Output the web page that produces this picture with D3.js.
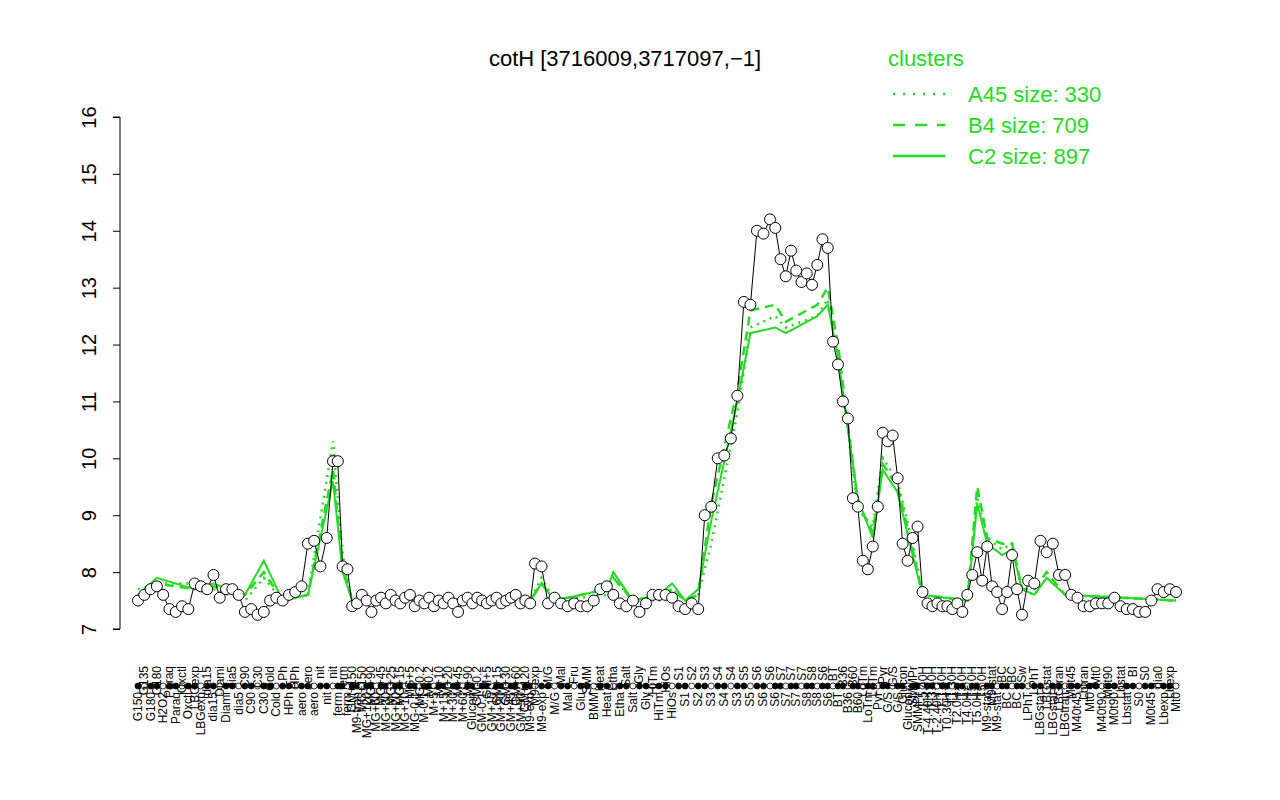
<!DOCTYPE html><html><head><meta charset="utf-8"><script src="https://cdn.jsdelivr.net/npm/d3@7"></script>
<style>body{margin:0;background:#fff}text{font-family:"Liberation Sans",Arial,sans-serif}</style></head><body>
<svg id="c" width="1280" height="800"></svg>
<script>
const labels=["G150","G135","G180","G180","H2O2","Paraq","Paraq","Oxctl","Oxctl","LBGexp","LBGexp","dia15","dia15","Diami","Diami","dia5","dia5","C90","C90","C30","C30","Cold","Cold","LPh","HPh","HPh","aero","aero","aero","nit","nit","nit","ferm","ferm","ferm","GM+150","M9-tran","MG+150","MG+120","MG+90",
"MG+60","MG+45","MG+30","MG+25","MG+20","MG+15","MG+10","MG+5","MG-0.1","MG-0.2","M-0.1","M-0.2","M+5","M+10","M+15","M+20","M+30","M+45","M+60","M+90",
"Glucon","GM-0.2","GM-0.1","GM+5","GM+10","GM+15","GM+20","GM+30","GM+45","GM+60","GM+90","GM+120","M9-exp","M9-exp","M9-exp","M/G","M/G","Mal","Mal","Fru","Glu","SMM","BMM","Heat","Heat","Etha","Etha","Salt","Salt","Gly","Gly","HiTm","HiTm","HiOs","HiOs","S1","S1","S2","S2","S3","S3","S4","S4","S4","S3","S5","S5","S6","S6","S6","S6","S7","S7","S7","S7","S7","S8","S8","S8","S6","S6","BT","BT","B36","B36","B60","B60","LoTm","LoTm","LoTm","Pyr","Pyr","G/S","G/S","G/S","Glucon","Glucon","SMMPr","SMMPr",
"T-5.40H","T-4.40H","T-3.40H","T-2.40H","T-1.40H","T0.30H","T1.30H","T2.0H","T3.0H","T4.0H","T5.0H","T5.0H","T5.0H","M9-stat","M9-stat","M9-stat","BC","BC","BC","BC","Sw","LPhT","LPhT","LBGstat","LBGstat","LBGstat","LBGtran","LBGtran","M0t45","M40t45","Lbtran","Mt0","Mt0","M40t90","M0t90","M0t90","Lbstat","Lbstat","BI","S0","S0","M0t45","dia0","Lbexp","Lbexp","Mt0"];
const values=[7.5,7.6,7.7,7.75,7.6,7.35,7.3,7.4,7.35,7.8,7.75,7.7,7.95,7.55,7.7,7.7,7.6,7.3,7.35,7.25,7.3,7.5,7.55,7.5,7.6,7.65,7.75,8.5,8.55,8.1,8.6,9.95,9.95,8.1,8.05,7.4,7.45,7.6,7.5,7.3,
7.5,7.55,7.45,7.6,7.5,7.45,7.55,7.6,7.4,7.5,7.45,7.55,7.4,7.5,7.45,7.55,7.45,7.3,7.5,7.55,
7.45,7.55,7.5,7.45,7.5,7.55,7.45,7.5,7.55,7.6,7.45,7.5,7.45,8.15,8.1,7.45,7.55,7.45,7.4,7.45,7.4,7.4,7.5,7.7,7.75,7.6,7.45,7.4,7.5,7.3,7.45,7.6,7.6,7.6,7.55,7.4,7.35,7.45,7.35,9.0,9.15,10.0,10.05,10.35,11.1,12.75,12.7,14.0,13.95,14.2,14.05,13.5,13.2,13.65,13.3,13.1,13.25,13.05,13.4,13.85,13.7,12.05,11.65,11.0,10.7,9.3,9.15,8.2,8.05,8.45,9.15,10.45,10.3,10.4,9.65,8.5,8.2,8.6,8.8,
7.65,7.45,7.4,7.45,7.4,7.4,7.35,7.45,7.3,7.6,7.95,8.35,7.85,8.45,7.75,7.65,7.35,7.65,8.3,7.7,7.25,7.85,7.8,8.55,8.35,8.5,7.95,7.95,7.6,7.55,7.4,7.4,7.45,7.45,7.45,7.55,7.4,7.35,7.35,7.3,7.3,7.5,7.7,7.65,7.7,7.65];
const clusterIdx=[0,3,9,12,17,20,23,27,31,33,35,40,72,74,76,84,85,88,92,94,96,98,100,104,106,110,112,118,120,122,124,126,129,131,134,137,139,148,150,152,155,157,159,161,163,166,184];
const c2=[7.6,7.9,7.7,7.8,7.6,8.2,7.5,7.6,9.6,8.0,7.5,7.55,7.5,7.8,7.5,7.7,8.0,7.5,7.6,7.8,7.5,7.7,8.9,11.0,12.2,12.3,12.2,12.5,12.7,11.8,10.5,9.3,8.6,9.8,9.4,8.3,7.6,7.5,9.2,8.5,8.3,8.4,7.7,7.6,7.9,7.6,7.5];
const b4=[7.6,7.8,7.7,7.75,7.6,8.0,7.5,7.6,9.8,8.1,7.5,7.55,7.5,7.8,7.5,7.7,7.9,7.5,7.6,7.7,7.5,7.6,9.2,11.2,12.6,12.7,12.4,12.7,13.0,12.0,10.6,9.2,8.7,9.9,9.5,8.4,7.6,7.5,9.5,8.6,8.5,8.5,7.7,7.7,8.0,7.6,7.5];
const a45=[7.7,7.8,7.8,7.7,7.5,7.9,7.5,7.6,10.3,8.3,7.5,7.5,7.5,7.9,7.5,7.6,7.9,7.5,7.5,7.7,7.5,7.6,8.5,10.8,12.3,12.5,12.3,12.5,12.8,11.8,10.5,9.1,8.8,10.0,9.6,8.5,7.6,7.5,9.3,8.6,8.4,8.5,7.7,7.6,7.9,7.6,7.5];
const yTicks=[7,8,9,10,11,12,13,14,15,16];

const svg=d3.select("#c");
const x=d3.scaleLinear().domain([0,31,73,109,121,159,184]).range([138,333,535,770,833,1022,1176]);
const y=d3.scaleLinear().domain([7,16]).range([629,117]);
const g=svg.append("g");
const ax=g.append("g").attr("transform","translate(120,0)").call(d3.axisLeft(y).tickValues(yTicks).tickSize(7).tickFormat(d3.format("d")));
ax.select(".domain").attr("d","M-7,"+y(7)+"H0V"+y(16)+"H-7").attr("stroke","#000");
ax.selectAll(".tick text").attr("font-size",20).attr("text-anchor","middle").attr("transform","translate(-24,0) rotate(-90)").attr("x",0).attr("y",0).attr("dy","0");
const line=d3.line().x(d=>x(d[0])).y(d=>y(d[1]));
const mk=arr=>clusterIdx.map((k,i)=>[k,arr[i]]);
g.append("path").attr("d",line(mk(a45))).attr("fill","none").attr("stroke","#22dd22").attr("stroke-width",2.5).attr("stroke-dasharray","2,5");
g.append("path").attr("d",line(mk(b4))).attr("fill","none").attr("stroke","#22dd22").attr("stroke-width",2.5).attr("stroke-dasharray","9,6");
g.append("path").attr("d",line(mk(c2))).attr("fill","none").attr("stroke","#22dd22").attr("stroke-width",2);
g.append("path").attr("d",line(values.map((v,i)=>[i,v]))).attr("fill","none").attr("stroke","#000").attr("stroke-width",1);
g.selectAll("circle.p").data(values).join("circle").attr("cx",(d,i)=>x(i)).attr("cy",d=>y(d)).attr("r",5.5).attr("fill","#fff").attr("stroke","#000");
g.selectAll("circle.r").data(values).join("circle").attr("cx",(d,i)=>x(i)).attr("cy",686).attr("r",3).attr("fill",(d,i)=>i%3===1?"#fff":"#000").attr("stroke","#000").attr("stroke-width",0.8);
g.selectAll("text.l").data(labels).join("text").attr("font-size",12)
 .attr("transform",(d,i)=>i%2===0?`translate(${x(i)+4},692) rotate(-90)`:`translate(${x(i)+4},666) rotate(-90)`)
 .attr("text-anchor","end").text(d=>d);
svg.append("text").attr("x",625).attr("y",66).attr("text-anchor","middle").attr("font-size",22).text("cotH [3716009,3717097,\u22121]");
const lg=svg.append("g");
lg.append("text").attr("x",888).attr("y",66).attr("fill","#22dd22").attr("font-size",22).text("clusters");
[["A45 size: 330","2,8"],["B4 size: 709","12,10"],["C2 size: 897",null]].forEach((e,i)=>{
 const yy=94+i*31;
 lg.append("line").attr("x1",893).attr("x2",945).attr("y1",yy).attr("y2",yy).attr("stroke","#22dd22").attr("stroke-width",2.5).attr("stroke-dasharray",e[1]);
 lg.append("text").attr("x",968).attr("y",yy+8).attr("fill","#22dd22").attr("font-size",22).text(e[0]);
});
</script></body></html>
